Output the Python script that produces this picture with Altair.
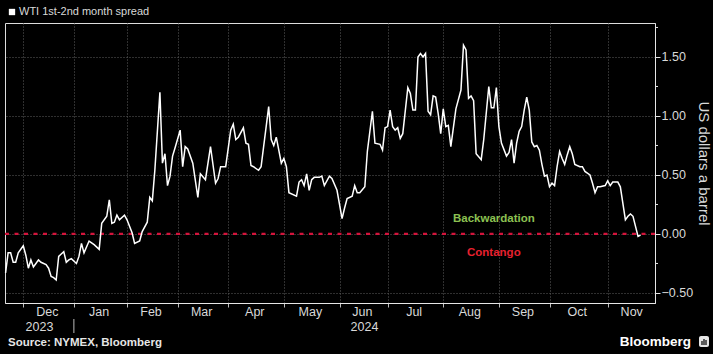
import altair as alt
import numpy as np
import pandas as pd

# ---- data -------------------------------------------------------------
# NYMEX trading holidays (used to build the trading-day x axis)
HOLIDAYS = ["2023-11-23", "2023-12-25", "2024-01-01", "2024-01-15", "2024-02-19",
            "2024-03-29", "2024-05-27", "2024-06-19", "2024-07-04", "2024-09-02",
            "2024-11-28"]
START = "2023-12-01"   # trading session 0

# trading session number (0 = 1 Dec 2023) and WTI 1st-2nd month spread (USD/bbl)
day = [-7, -6, -5, -4, -3, -2, 0, 1, 2, 3, 4, 5, 6, 7, 9, 10, 11, 12, 13, 14, 15, 16, 17, 18, 19,
       21, 22, 23, 24, 26, 28, 30, 31, 33, 34, 35, 36, 37, 38, 40, 41, 43, 44, 46, 47, 49, 50, 51,
       52, 54, 55, 56, 57, 58, 59, 60, 62, 63, 64, 65, 67, 69, 70, 72, 74, 76, 77, 78, 80, 82, 83,
       84, 85, 87, 88, 89, 90, 91, 93, 94, 96, 97, 98, 99, 100, 102, 103, 104, 105, 108, 109, 110,
       111, 112, 113, 114, 115, 117, 118, 119, 121, 122, 124, 126, 127, 128, 130, 131, 132, 133,
       135, 136, 138, 139, 141, 142, 143, 144, 145, 146, 147, 148, 149, 150, 152, 153, 154, 155,
       156, 157, 158, 159, 160, 161, 162, 163, 164, 165, 166, 167, 168, 169, 171, 173, 174, 175,
       176, 177, 178, 179, 181, 182, 184, 185, 186, 187, 188, 189, 191, 192, 193, 194, 195, 196,
       197, 198, 199, 200, 201, 202, 203, 204, 205, 206, 207, 208, 209, 210, 211, 212, 213, 214,
       215, 216, 217, 218, 220, 221, 222, 224, 225, 226, 227, 228, 230, 231, 232, 233, 235, 236,
       238, 239, 240, 241, 243, 244]
spread = [-0.33, -0.16, -0.16, -0.24, -0.24, -0.16, -0.10, -0.18, -0.29, -0.22, -0.28, -0.25,
          -0.22, -0.24, -0.26, -0.29, -0.36, -0.37, -0.39, -0.19, -0.17, -0.15, -0.24, -0.22,
          -0.21, -0.25, -0.19, -0.08, -0.16, -0.06, -0.09, -0.13, 0.09, 0.15, 0.29, 0.09, 0.10,
          0.16, 0.12, 0.16, 0.12, 0.01, -0.08, -0.06, 0.02, 0.10, 0.31, 0.28, 0.54, 1.20, 0.60,
          0.68, 0.41, 0.49, 0.66, 0.73, 0.88, 0.57, 0.74, 0.72, 0.60, 0.31, 0.51, 0.46, 0.74,
          0.43, 0.47, 0.57, 0.57, 0.88, 0.93, 0.80, 0.82, 0.90, 0.77, 0.76, 0.58, 0.57, 0.54,
          0.57, 0.91, 1.08, 0.80, 0.75, 0.82, 0.60, 0.64, 0.57, 0.35, 0.32, 0.44, 0.46, 0.41,
          0.51, 0.37, 0.46, 0.48, 0.48, 0.49, 0.41, 0.49, 0.47, 0.37, 0.13, 0.22, 0.30, 0.32,
          0.41, 0.35, 0.35, 0.40, 0.70, 1.04, 0.77, 0.76, 0.71, 0.90, 0.91, 1.05, 0.91, 0.88,
          0.90, 0.81, 0.85, 1.24, 1.19, 1.05, 1.05, 1.50, 1.53, 1.50, 1.53, 1.04, 1.01, 1.17,
          1.16, 1.02, 0.85, 1.06, 0.91, 0.92, 0.74, 1.06, 1.22, 1.60, 1.56, 1.15, 1.17, 1.13,
          0.68, 0.63, 0.80, 1.25, 1.07, 1.07, 1.24, 0.91, 0.77, 0.66, 0.69, 0.80, 0.60, 0.77,
          0.87, 0.91, 1.05, 1.16, 1.05, 0.78, 0.74, 0.75, 0.71, 0.59, 0.49, 0.50, 0.40, 0.43,
          0.41, 0.57, 0.70, 0.64, 0.59, 0.67, 0.74, 0.68, 0.59, 0.57, 0.57, 0.53, 0.50, 0.43,
          0.35, 0.40, 0.40, 0.41, 0.45, 0.41, 0.44, 0.44, 0.40, 0.12, 0.15, 0.17, 0.15, -0.02,
          -0.01]

month_labels = ["Dec", "Jan", "Feb", "Mar", "Apr", "May", "Jun", "Jul", "Aug", "Sep", "Oct", "Nov"]
month_firsts = ["2023-12-01", "2024-01-01", "2024-02-01", "2024-03-01", "2024-04-01",
                "2024-05-01", "2024-06-01", "2024-07-01", "2024-08-01", "2024-09-01",
                "2024-10-01", "2024-11-01", "2024-12-01"]
year_labels = ["2023", "2024"]
y_ticks = [-0.5, 0.0, 0.5, 1.0, 1.5]
y_minor = [-0.25, 0.25, 0.75, 1.25, 1.75]
annotations = ["Backwardation", "Contango"]
annot_day = [186, 186]
annot_val = [0.13, -0.16]
annot_color = ["#8cc152", "#e8202f"]

X_DOMAIN = [-7.23, 249.7]
Y_DOMAIN = [-0.585, 1.788]

# ---- derived tables ----------------------------------------------------
month_idx = [int(np.busday_count(START, d, holidays=HOLIDAYS)) for d in month_firsts]
month_mid = [(month_idx[i] + month_idx[i + 1]) / 2 - 0.5 for i in range(len(month_labels))]
year_break = month_idx[1]
year_mid = [(X_DOMAIN[0] + year_break) / 2, (year_break + X_DOMAIN[1]) / 2]

line_df = pd.DataFrame({"x": day, "y": spread})
month_df = pd.DataFrame({"x": month_mid, "label": month_labels})
year_df = pd.DataFrame({"x": year_mid, "label": year_labels})
annot_df = pd.DataFrame({"x": annot_day, "y": annot_val, "label": annotations, "c": annot_color})

FONT = "Liberation Sans"
LABEL_C = "#d9d9d9"
GRID_C = "#5e5e5e"

xscale = alt.Scale(domain=X_DOMAIN, nice=False, zero=False)
yscale = alt.Scale(domain=Y_DOMAIN, nice=False, zero=False)
xaxis = alt.Axis(values=month_idx[:-1], labels=False, title=None, grid=True,
                 gridColor=GRID_C, gridDash=[1, 2], gridWidth=1,
                 ticks=True, tickSize=4, tickColor="#bbbbbb", domainColor="#e6e6e6",
                 domainWidth=1)
yaxis = alt.Axis(orient="right", values=y_ticks, format=".2f", title="US dollars a barrel",
                 grid=True, gridColor=GRID_C, gridDash=[1, 2], gridWidth=1,
                 ticks=True, tickSize=5, tickColor="#e6e6e6", domainColor="#e6e6e6",
                 labelColor=LABEL_C, labelFont=FONT, labelFontSize=12.5, labelPadding=1,
                 titleColor=LABEL_C, titleFont=FONT, titleFontSize=15,
                 titleFontWeight="normal", titlePadding=3)

X = alt.X("x:Q", scale=xscale, axis=xaxis)
Y = alt.Y("y:Q", scale=yscale, axis=yaxis)

zero = alt.Chart(pd.DataFrame({"y": [0.0]})).mark_rule(
    color="#d4143c", strokeDash=[4, 5.5], strokeWidth=2.2
).encode(y=Y)

minor = alt.Chart(pd.DataFrame({"y": y_minor})).mark_rule(
    color="#e6e6e6", strokeWidth=1
).encode(y=Y, x=alt.value(650), x2=alt.value(653))

line = alt.Chart(line_df).mark_line(color="white", strokeWidth=1.5).encode(x=X, y=Y)

annot = alt.Chart(annot_df).mark_text(font=FONT, fontSize=11.5, fontWeight="bold").encode(
    x=X, y=Y, text="label:N", color=alt.Color("c:N", scale=None)
)

months = alt.Chart(month_df).mark_text(
    font=FONT, fontSize=12.5, color=LABEL_C, baseline="middle"
).encode(x=X, y=alt.value(289), text="label:N")

years = alt.Chart(year_df).mark_text(
    font=FONT, fontSize=12.5, color=LABEL_C, baseline="middle"
).encode(x=X, y=alt.value(304), text="label:N")

sep = alt.Chart(pd.DataFrame({"x": [year_break]})).mark_rule(
    color="#bbbbbb", strokeWidth=1
).encode(x=X, y=alt.value(296), y2=alt.value(310))

legend_sq = alt.Chart(pd.DataFrame({"k": [0]})).mark_square(
    color="white", size=40, opacity=1
).encode(x=alt.value(7), y=alt.value(-11))
legend_tx = alt.Chart(pd.DataFrame({"t": ["WTI 1st-2nd month spread"]})).mark_text(
    font=FONT, fontSize=11, color=LABEL_C, align="left", baseline="middle"
).encode(x=alt.value(14), y=alt.value(-11), text="t:N")

source = alt.Chart(pd.DataFrame({"t": ["Source: NYMEX, Bloomberg"]})).mark_text(
    font=FONT, fontSize=11.5, fontWeight="bold", color="#e6e6e6", align="left",
    baseline="middle"
).encode(x=alt.value(3), y=alt.value(320), text="t:N")

brand = alt.Chart(pd.DataFrame({"t": ["Bloomberg"]})).mark_text(
    font=FONT, fontSize=13.5, fontWeight="bold", color="white", align="right",
    baseline="middle"
).encode(x=alt.value(686), y=alt.value(319), text="t:N")

icon = alt.Chart(pd.DataFrame({"k": [0]})).mark_rect(color="#e6e6e6", cornerRadius=2).encode(
    x=alt.value(694), x2=alt.value(704), y=alt.value(313), y2=alt.value(324)
)
icon_bars = alt.Chart(pd.DataFrame({"bx": [697, 699, 701], "by": [318, 316, 317]})).mark_rule(
    color="black", strokeWidth=1.2
).encode(x=alt.X("bx:Q", scale=None), y=alt.Y("by:Q", scale=None), y2=alt.value(322))

chart = alt.layer(
    zero, minor, line, annot, months, years, sep, legend_sq, legend_tx, source, brand,
    icon, icon_bars
).properties(
    width=650, height=280,
    padding={"left": 5, "top": 23, "right": 58, "bottom": 51},
    autosize=alt.AutoSizeParams(type="none"),
    background="black",
).configure_view(stroke=None).configure(font=FONT)

chart.save("out.html", embed_options={"renderer": "svg", "actions": False})
